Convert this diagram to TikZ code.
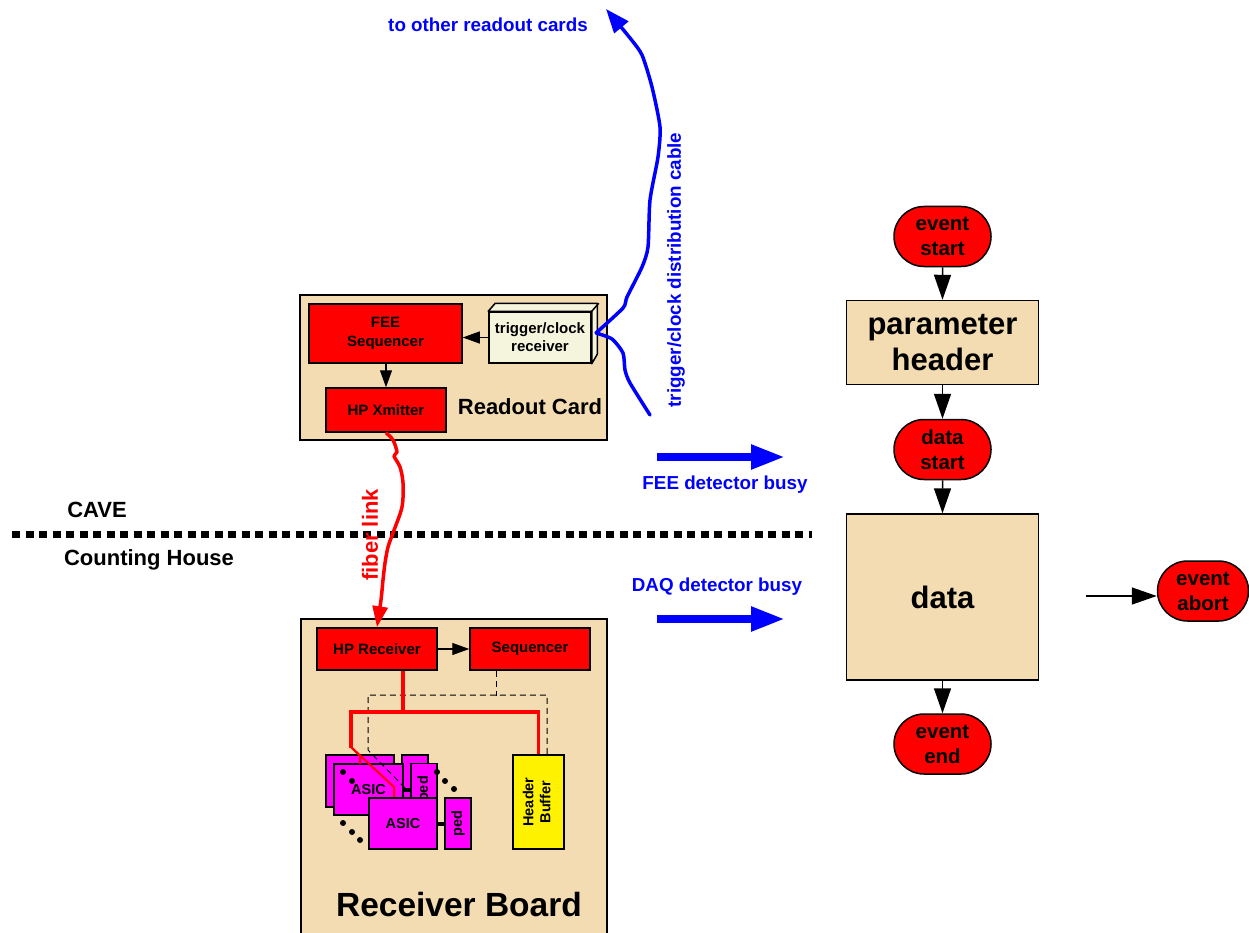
\documentclass[tikz,border=0pt]{standalone}
\usepackage{fontspec}
\setmainfont{Liberation Sans}
\usetikzlibrary{arrows.meta,shapes.misc}
\definecolor{wheatc}{RGB}{243,220,178}
\definecolor{beigec}{RGB}{245,244,220}
\definecolor{chipc}{RGB}{255,0,255}
\newcommand\fsz[2]{\fontsize{#1}{#2}\selectfont\bfseries}

\begin{document}
\begin{tikzpicture}[x=1pt,y=-1pt,
  every node/.style={inner sep=0pt, align=center},
  frame/.style={draw=black, line width=1.5pt},
  board/.style={frame, fill=wheatc},
  redbox/.style={frame, fill=red, font=\fsz{15}{19}},
  chip/.style={frame, fill=chipc, font=\fsz{14.5}{17}},
  term/.style={frame, fill=red, rounded rectangle, minimum width=97pt,
               minimum height=60pt, font=\fsz{20.5}{25}},
  stage/.style={frame, fill=wheatc, minimum width=192pt, font=\fsz{31}{36}},
  small/.style={line width=1.2pt, -{Triangle[length=17pt,width=12pt]}},
  flow/.style={line width=1.5pt, -{Triangle[length=25pt,width=17pt]}},
  cable/.style={blue, line width=3.5pt, line join=round, line cap=round},
  fibre/.style={red, line width=3.5pt, line join=round},
  redline/.style={red, line width=3.5pt, line join=miter},
  thinred/.style={red, line width=2pt},
  ctrl/.style={black, line width=1pt, dash pattern=on 6pt off 4pt},
  busy/.style={blue, line width=8pt, -{Triangle[length=34pt,width=23pt]}},
  bluetxt/.style={text=blue, font=\fsz{18.8}{22}},
  blacktxt/.style={font=\fsz{22}{26}},
  bus/.style={black, line width=4pt},
  dot/.style={fill=black, circle, minimum size=6pt},
]
\useasboundingbox (0,0) rectangle (1249,933);

% ---------------- Readout card ----------------
\node[board, minimum width=307pt, minimum height=145pt] (rc) at (453.5,367.5) {};
\node[redbox, minimum width=153pt, minimum height=59pt] (fee) at (385.5,333.5) {FEE\\Sequencer};
\node[redbox, minimum width=120pt, minimum height=44pt] (hpx) at (386,410) {HP Xmitter};
\node[frame, fill=beigec, minimum width=102pt, minimum height=51pt,
      font=\fsz{15}{18}] (trig) at (540,337.5) {trigger/clock\\receiver};
\draw[frame, fill=beigec, line join=round] (trig.north west) -- ++(7,-8) -- ++(102,0)
      -- ++(0,51) -- (trig.south east) -- (trig.north east) -- cycle;
\draw[frame] (trig.north east) -- ++(7,-8);
\node[blacktxt] (rclab) at (530,407) {Readout Card};
\draw[small] (trig.west) -- (trig.west -| fee.east);
\draw[small] (hpx.north |- fee.south) -- (hpx.north);

% ---------------- CAVE / Counting House boundary ----------------
\coordinate (sepL) at (12,534);
\coordinate (sepR) at (812,534);
\draw[black, line width=7pt, dash pattern=on 8pt off 5.5pt] (sepL) -- (sepR);
\node[blacktxt] (cave) at (97,510) {CAVE};
\node[blacktxt] (house) at (149,560) {Counting House};

% ---------------- Receiver board ----------------
\node[board, minimum width=306pt, minimum height=322pt] (rb) at (454,780) {};
\node[redbox, minimum width=120pt, minimum height=42pt] (hpr) at (377,649) {HP Receiver};
\node[redbox, minimum width=120pt, minimum height=42pt] (seq) at (530,649) {Sequencer};
\draw[small] (hpr.east) -- (seq.west);
\node[frame, fill=yellow, minimum width=51pt, minimum height=94pt] (hb) at (538.5,802)
      {\rotatebox{90}{\fsz{14.5}{17}\begin{tabular}{@{}c@{}}Header\\Buffer\end{tabular}}};

% ASIC stack
\node[chip, minimum width=68pt, minimum height=52pt] (asic1) at (360,781) {};
\node[chip, minimum width=26pt, minimum height=51pt] (ped1) at (415,780.5) {};
\node[chip, minimum width=69pt, minimum height=51pt] (asic2) at (368.5,789.5) {ASIC};
\node[chip, minimum width=26pt, minimum height=51pt] (ped2) at (424,789)
      {\rotatebox{90}{ped}};
\draw[bus] (asic2.east) -- (asic2.east -| ped2.west);

% control (dashed) and data (red) wiring
\draw[ctrl] ([xshift=-34pt]seq.south) -- ++(0,25);
\draw[ctrl] (405,788) -- (368,750) -- (368,695) -| ([xshift=8.5pt]hb.north);
\draw[redline] ([xshift=26pt]hpr.south) -- (403,712);
\draw[redline] (351,748) -- (351,712) -| (hb.north);
\draw[thinred] (351,747) -- (360,756) -- (360,764);
\draw[thinred] (351,747) -- (394,787) -- (394,798);

\node[chip, minimum width=68pt, minimum height=51pt] (asic3) at (403,823.5) {ASIC};
\node[chip, minimum width=26pt, minimum height=51pt] (ped3) at (458,823.5)
      {\rotatebox{90}{ped}};
\draw[bus] (asic3.east) -- (ped3.west);

% ellipsis dots
\node[dot] (d1) at (343,772) {};
\node[dot] (d2) at (352,781) {};
\node[dot] (d3) at (343,823) {};
\node[dot] (d4) at (352,832) {};
\node[dot] (d5) at (360,840) {};
\node[dot] (d6) at (437,772) {};
\node[dot] (d7) at (445,781) {};
\node[dot] (d8) at (454,789) {};

\node[font=\fsz{33.5}{38}] (rblab) at (459,905) {Receiver Board};

% ---------------- fibre link ----------------
\draw[fibre, -{Triangle[length=21pt,width=15pt]}] plot[smooth, tension=0.5] coordinates
  {(hpx.south) (393,440) (397,452) (394,456) (400,467) (403,483) (402,507)
   (393,533) (388,547) (385,563) (383,580) (381,600) (hpr.north)};
\node[text=red, font=\fsz{22}{26}, rotate=90] (fiblab) at (370,535) {fiber link};

% ---------------- trigger / clock cable ----------------
\coordinate (tap) at (596,333);
\coordinate (cableend) at (650,415);
\coordinate (cabletip) at (606,9);
\draw[cable] plot[smooth, tension=0.4] coordinates
  {(cableend) (630,383) (625,370) (623,353) (612,339) (tap)};
\draw[cable, line cap=butt, -{Triangle[length=24pt,width=18pt]}] plot[smooth, tension=0.4] coordinates
  {(tap) (623,308) (627,297) (642,267) (648,247) (650,200) (658,157) (660,127)
   (652,87) (642,55) (630,38) (cabletip)};
\node[bluetxt] (other) at (488,25) {to other readout cards};
\node[bluetxt, rotate=90] (cablab) at (676,270) {trigger/clock distribution cable};

% ---------------- busy signals ----------------
\coordinate (feeA) at (657,457);
\coordinate (feeB) at (785,457);
\draw[busy] (feeA) -- (feeB);
\node[bluetxt] (feebusy) at (725,485) {FEE detector busy};
\coordinate (daqA) at (657,619);
\coordinate (daqB) at (785,619);
\draw[busy] (daqA) -- (daqB);
\node[bluetxt] (daqbusy) at (717,587) {DAQ detector busy};

% ---------------- event flow ----------------
\node[term] (es) at (942.5,236.5) {event\\start};
\node[stage, minimum height=84pt] (ph) at (942.5,342.5) {parameter\\header};
\node[term] (ds) at (942.5,449.5) {data\\start};
\node[stage, minimum height=166pt] (dt) at (942.5,597) {data};
\node[term] (ee) at (942.5,744) {event\\end};
\node[term, minimum width=91pt] (ea) at (1203,591) {event\\abort};
\draw[flow] (es) -- (ph);
\draw[flow] (ph) -- (ds);
\draw[flow] (ds) -- (dt);
\draw[flow] (dt) -- (ee);
\coordinate (abortsrc) at (1086,596);
\draw[flow] (abortsrc) -- (abortsrc -| ea.west);
\end{tikzpicture}
\end{document}
